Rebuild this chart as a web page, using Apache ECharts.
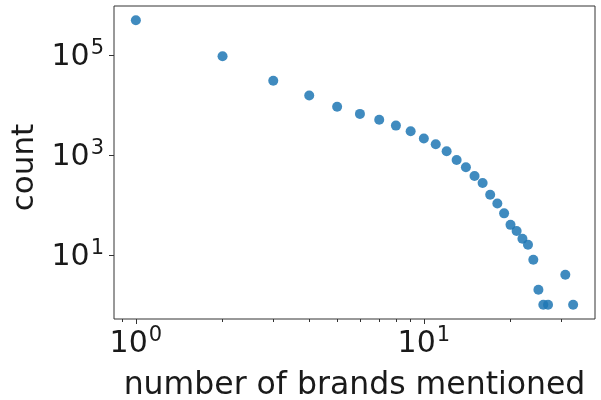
<!DOCTYPE html>
<html>
<head>
<meta charset="utf-8">
<script src="https://cdn.jsdelivr.net/npm/echarts@6/dist/echarts.min.js"></script>
<style>
  html, body { margin: 0; padding: 0; background: #fff; }
  #chart { width: 601px; height: 400px; }
</style>
</head>
<body>
<div id="chart"></div>
<script>
// Number of brands mentioned per item, and how many items mention that many
const brandsMentioned = [1, 2, 3, 4, 5, 6, 7, 8, 9, 10, 11, 12, 13, 14, 15, 16, 17, 18, 19, 20, 21, 22, 23, 24, 25, 26, 27, 31, 33];
const counts = [505000, 95500, 31000, 15700, 9300, 6700, 5100, 3900, 3000, 2150, 1650, 1190, 800, 570, 380, 276, 161, 107, 68, 40, 30, 21, 16, 8, 2, 1, 1, 4, 1];

// Tick positions
const xMajorTicks = [1, 10];
const xMinorTicks = [0.9, 2, 3, 4, 5, 6, 7, 8, 9, 20, 30];
const yMajorTicks = [10, 1000, 100000];

const FONT = 'DejaVu Sans';
const INK = '#1a1a1a';
const FRAME = '#333';

// 5% padding in log space around the data range
function logPad(lo, hi) {
  const a = Math.log10(lo), b = Math.log10(hi);
  const p = (b - a) * 0.05;
  return [Math.pow(10, a - p), Math.pow(10, b + p)];
}
const xExt = logPad(Math.min(...brandsMentioned), Math.max(...brandsMentioned));
const yExt = logPad(Math.min(...counts), Math.max(...counts));

function powerLabel(v) {
  const e = Math.round(Math.log10(v));
  return '{b|10}{s|' + e + '}';
}
const labelRich = {
  b: { fontFamily: FONT, fontSize: 30, color: INK, lineHeight: 34, verticalAlign: 'bottom' },
  s: { fontFamily: FONT, fontSize: 21, color: INK, lineHeight: 34, verticalAlign: 'top', padding: [0, 0, 0, 1] }
};

const chart = echarts.init(document.getElementById('chart'), null, { renderer: 'canvas' });
chart.setOption({
  animation: false,
  backgroundColor: '#fff',
  grid: {
    left: 114, right: 6, top: 6, bottom: 81,
    outerBoundsMode: 'none', containLabel: false,
    show: true, borderColor: FRAME, borderWidth: 1, backgroundColor: 'transparent'
  },
  xAxis: [
    {
      type: 'log', logBase: 10, min: xExt[0], max: xExt[1],
      axisLine: { show: false },
      splitLine: { show: false },
      axisTick: { show: true, customValues: xMajorTicks, length: 5, lineStyle: { color: FRAME } },
      axisLabel: { customValues: xMajorTicks, margin: 6, formatter: powerLabel, rich: labelRich },
      name: 'number of brands mentioned', nameLocation: 'middle', nameGap: 51,
      nameTextStyle: { fontFamily: FONT, fontSize: 31.5, color: INK }
    },
    {
      type: 'log', logBase: 10, min: xExt[0], max: xExt[1], position: 'bottom',
      axisLine: { show: false },
      splitLine: { show: false },
      axisTick: { show: true, customValues: xMinorTicks, length: 3, lineStyle: { color: FRAME } },
      axisLabel: { show: false }
    }
  ],
  yAxis: {
    type: 'log', logBase: 10, min: yExt[0], max: yExt[1],
    axisLine: { show: false },
    splitLine: { show: false },
    axisTick: { show: true, customValues: yMajorTicks, length: 5, lineStyle: { color: FRAME } },
    axisLabel: { customValues: yMajorTicks, margin: 10, formatter: powerLabel, rich: labelRich },
    name: 'count', nameLocation: 'middle', nameGap: 74, nameRotate: 90,
    nameTextStyle: { fontFamily: FONT, fontSize: 31, color: INK, padding: [0, 10, 0, 0] }
  },
  series: [{
    type: 'scatter',
    xAxisIndex: 0,
    data: brandsMentioned.map((x, i) => [x, counts[i]]),
    symbol: 'circle',
    symbolSize: 10,
    itemStyle: { color: '#1f77b4', opacity: 0.85 }
  }]
});
</script>
</body>
</html>
